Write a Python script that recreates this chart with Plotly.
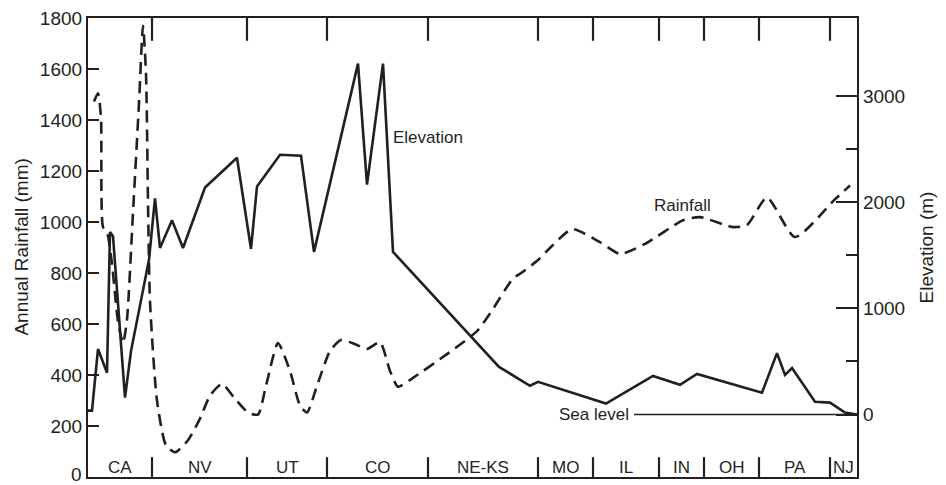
import plotly.graph_objects as go

# Distance along the cross-country transect (arbitrary units, west -> east)
elev_dist = [0, 4, 10, 19, 22, 25, 37, 43, 61, 67, 72, 84, 95, 117, 149, 163, 169,
             192, 213, 226, 270, 279, 295, 305, 411, 442, 450, 518, 565, 592, 609,
             674, 689, 697, 704, 727, 742, 757, 769]
# Ground elevation (m)
elev_m = [37, 37, 617, 393, 1720, 1682, 159, 598, 1458, 2037, 1570, 1832, 1570,
          2140, 2420, 1561, 2150, 2449, 2439, 1533, 3308, 2168, 3308, 1533, 449,
          271, 308, 103, 364, 280, 383, 206, 579, 374, 439, 121, 112, 19, 0]

rain_dist = [6, 10, 13, 15, 19, 24, 30, 35, 39, 45, 51, 55, 58, 60, 62, 69, 78, 87,
             100, 112, 122, 134, 147, 160, 170, 178, 190, 202, 212, 219, 229, 242,
             253, 267, 279, 292, 302, 310, 325, 359, 389, 402, 425, 435, 450, 465,
             484, 512, 532, 557, 595, 612, 645, 659, 679, 707, 747, 762]
# Annual rainfall (mm)
rain_mm = [1473, 1505, 1407, 980, 960, 836, 610, 525, 618, 1038, 1466, 1769, 1582,
           1077, 688, 299, 124, 97, 144, 229, 319, 365, 307, 253, 245, 358, 525,
           416, 280, 253, 358, 494, 537, 521, 502, 529, 416, 354, 389, 482, 572,
           641, 778, 805, 851, 910, 972, 921, 875, 914, 1007, 1019, 980, 988,
           1096, 941, 1089, 1143]

# Sea-level reference line
sea_dist = [546, 769]
sea_m = [0, 0]

# State segments along the transect
states = ["CA", "NV", "UT", "CO", "NE-KS", "MO", "IL", "IN", "OH", "PA", "NJ"]
state_edges = [0, 64, 159, 239, 340, 450, 505, 571, 616, 671, 742, 769]

rain_ticks = list(range(200, 1801, 200))
elev_ticks = [0, 1000, 2000, 3000]
elev_minor = [500, 1500, 2500]

INK = "#231f20"
FONT = "Liberation Sans, Arial, sans-serif"

fig = go.Figure()

fig.add_trace(go.Scatter(
    x=rain_dist, y=rain_mm, mode="lines", yaxis="y",
    line=dict(color=INK, width=2.6, dash="12px,7px", shape="spline", smoothing=0.6),
    showlegend=False, hoverinfo="skip"))

fig.add_trace(go.Scatter(
    x=elev_dist, y=elev_m, mode="lines", yaxis="y2",
    line=dict(color=INK, width=2.6), showlegend=False, hoverinfo="skip"))

fig.add_trace(go.Scatter(
    x=sea_dist, y=sea_m, mode="lines", yaxis="y2",
    line=dict(color=INK, width=1.6), showlegend=False, hoverinfo="skip"))

# Plot size in px, used to size the boundary tick marks in paper units
PLOT_H = 463
PLOT_W = 769
shapes = []
for e in state_edges[1:-1]:
    shapes.append(dict(type="line", xref="x", yref="paper", x0=e, x1=e,
                       y0=0, y1=20 / PLOT_H, line=dict(color=INK, width=2.2)))
    shapes.append(dict(type="line", xref="x", yref="paper", x0=e, x1=e,
                       y0=1, y1=1 - 23 / PLOT_H, line=dict(color=INK, width=2.2)))

annotations = []
for name, a, b in zip(states, state_edges[:-1], state_edges[1:]):
    annotations.append(dict(x=(a + b) / 2, y=10 / PLOT_H, xref="x", yref="paper",
                            text=name, showarrow=False, xanchor="center",
                            yanchor="middle", font=dict(size=17, color=INK, family=FONT)))

annotations += [
    dict(x=303, y=2607, xref="x", yref="y2", text="Elevation", showarrow=False,
         xanchor="left", yanchor="middle", font=dict(size=17, color=INK, family=FONT)),
    dict(x=564, y=1065, xref="x", yref="y", text="Rainfall", showarrow=False,
         xanchor="left", yanchor="middle", font=dict(size=17, color=INK, family=FONT)),
    dict(x=469, y=0, xref="x", yref="y2", text="Sea level", showarrow=False,
         xanchor="left", yanchor="middle", font=dict(size=17, color=INK, family=FONT)),
    # bottom "0" label of the rainfall axis, lifted slightly to stay inside the page
    dict(x=-4 / PLOT_W, y=0, xref="paper", yref="y", text="0", showarrow=False,
         xanchor="right", yanchor="middle", yshift=3,
         font=dict(size=19, color=INK, family=FONT)),
    dict(x=-0.087, y=0.5, xref="paper", yref="paper", text="Annual Rainfall (mm)",
         showarrow=False, textangle=-90, xanchor="center", yanchor="middle",
         font=dict(size=19, color=INK, family=FONT)),
    dict(x=1.091, y=0.5, xref="paper", yref="paper", text="Elevation (m)",
         showarrow=False, textangle=-90, xanchor="center", yanchor="middle",
         font=dict(size=19, color=INK, family=FONT)),
]

fig.update_layout(
    width=946, height=485,
    margin=dict(l=88, r=89, t=14, b=8),
    paper_bgcolor="white", plot_bgcolor="white",
    font=dict(family=FONT, color=INK, size=19),
    xaxis=dict(range=[0, 769], showgrid=False, zeroline=False, showticklabels=False,
               ticks="", showline=True, mirror=True, linecolor=INK, linewidth=2.2),
    yaxis=dict(range=[0, 1800], tickvals=rain_ticks, ticks="inside", ticklen=11,
               tickwidth=2, tickcolor=INK, showgrid=False, zeroline=False,
               showline=True, linecolor=INK, linewidth=2.2,
               tickfont=dict(size=19, color=INK, family=FONT)),
    yaxis2=dict(range=[-589, 3738], overlaying="y", side="right",
                tickvals=elev_ticks, ticks="inside", ticklen=21, tickwidth=2,
                tickcolor=INK, showgrid=False, zeroline=False, showline=True,
                linecolor=INK, linewidth=2.2,
                minor=dict(tickvals=elev_minor, ticks="inside", ticklen=11,
                           tickwidth=2, tickcolor=INK, showgrid=False),
                tickfont=dict(size=19, color=INK, family=FONT)),
    shapes=shapes, annotations=annotations,
)

fig.write_html("out.html")
